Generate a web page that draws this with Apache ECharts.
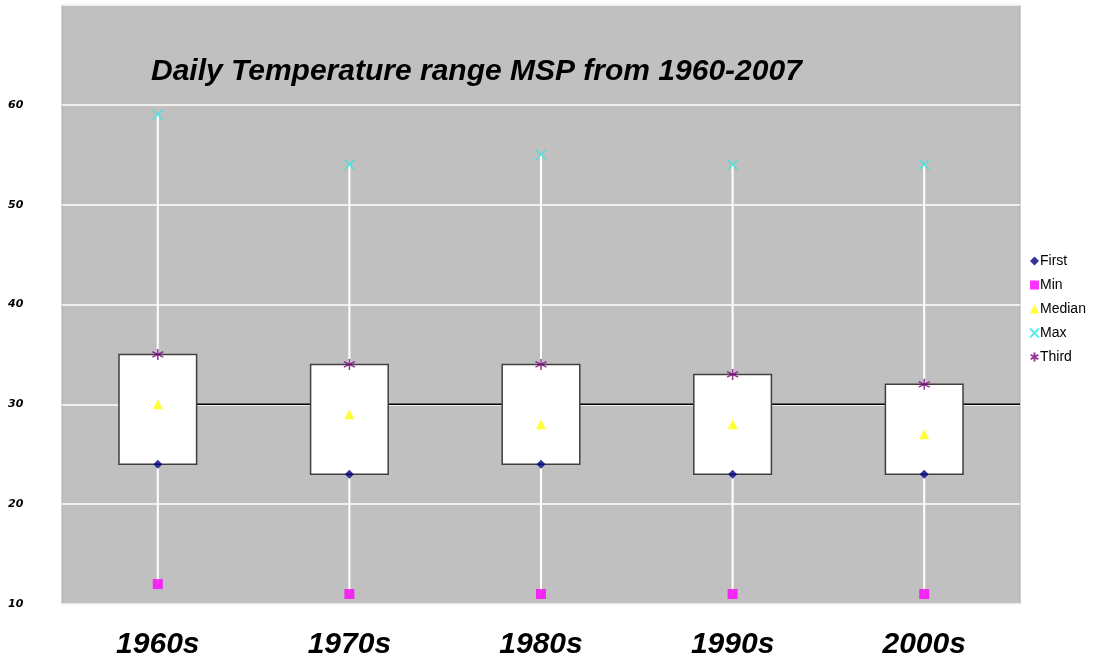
<!DOCTYPE html>
<html>
<head>
<meta charset="utf-8">
<script src="https://cdn.jsdelivr.net/npm/echarts@6/dist/echarts.min.js"></script>
<style>
  html, body { margin: 0; padding: 0; background: #fff; }
  #chart { width: 1113px; height: 658px; }
</style>
</head>
<body>
<div id="chart"></div>
<script>
// values
const decades = ['1960s', '1970s', '1980s', '1990s', '2000s']
const firstQ = [24, 23, 24, 23, 23]
const minVals = [12, 11, 11, 11, 11]
const medians = [30, 29, 28, 28, 27]
const maxVals = [59, 54, 55, 54, 54]
const thirdQ = [35, 34, 34, 33, 32]
const refLevel = 30

const boxData = decades.map((d, i) => [i, firstQ[i], thirdQ[i], minVals[i], maxVals[i]])

const chart = echarts.init(document.getElementById('chart'))

const option = {
  animation: false,
  backgroundColor: '#ffffff',
  title: {
    text: 'Daily Temperature range MSP from 1960-2007',
    left: 146,
    top: 52,
    textStyle: {
      fontFamily: 'Liberation Sans',
      fontStyle: 'italic',
      fontWeight: 'bold',
      fontSize: 30,
      color: '#000'
    }
  },
  legend: {
    orient: 'vertical',
    left: 1024,
    top: 249,
    itemWidth: 9,
    itemHeight: 9,
    itemGap: 10,
    data: ['First', 'Min', 'Median', 'Max', 'Third'],
    textStyle: {
      fontFamily: 'Liberation Sans',
      fontSize: 14,
      color: '#000',
      padding: [0, 0, 0, -4]
    }
  },
  grid: {
    left: 62,
    right: 93,
    top: 5,
    bottom: 54,
    outerBoundsMode: 'none',
    containLabel: false,
    show: true,
    backgroundColor: '#c0c0c0',
    borderColor: '#a8a8a8',
    borderWidth: 1
  },
  xAxis: [
    {
      type: 'category',
      data: decades,
      axisLine: { show: false },
      axisTick: { show: false },
      splitLine: { show: false },
      axisLabel: {
        margin: 26,
        fontFamily: 'Liberation Sans',
        fontStyle: 'italic',
        fontWeight: 'bold',
        fontSize: 30,
        color: '#000'
      }
    },
    {
      type: 'value',
      min: -0.5,
      max: decades.length - 0.5,
      show: false
    }
  ],
  yAxis: {
    type: 'value',
    min: 10,
    max: 70,
    interval: 10,
    axisLine: { show: false },
    axisTick: { show: false },
    axisLabel: {
      showMaxLabel: false,
      align: 'left',
      margin: 54,
      fontFamily: 'DejaVu Sans',
      fontStyle: 'italic',
      fontWeight: 'bold',
      fontSize: 11,
      color: '#000'
    },
    splitLine: {
      lineStyle: { color: '#ffffff', width: 1.5 }
    }
  },
  series: [
    {
      name: 'ref',
      type: 'line',
      xAxisIndex: 1,
      z: 1,
      symbol: 'none',
      silent: true,
      lineStyle: { color: '#000', width: 1.5 },
      data: [[0, refLevel], [decades.length - 0.5, refLevel]]
    },
    {
      name: 'whisker',
      type: 'custom',
      z: 2,
      silent: true,
      data: boxData,
      renderItem: function (params, api) {
        const top = api.coord([api.value(0), api.value(4)])
        const bot = api.coord([api.value(0), api.value(3)])
        return {
          type: 'line',
          shape: { x1: top[0], y1: top[1], x2: bot[0], y2: bot[1] },
          style: { stroke: '#ffffff', lineWidth: 2 }
        }
      }
    },
    {
      name: 'box',
      type: 'custom',
      z: 3,
      silent: true,
      data: boxData,
      renderItem: function (params, api) {
        const hi = api.coord([api.value(0), api.value(2)])
        const lo = api.coord([api.value(0), api.value(1)])
        const w = api.size([1, 0])[0] * 0.405
        return {
          type: 'rect',
          shape: { x: hi[0] - w / 2, y: hi[1], width: w, height: lo[1] - hi[1] },
          style: { fill: '#ffffff', stroke: '#404040', lineWidth: 1.5 }
        }
      }
    },
    {
      name: 'First',
      type: 'scatter',
      z: 4,
      symbol: 'diamond',
      symbolSize: 9,
      itemStyle: { color: '#000080' },
      data: firstQ
    },
    {
      name: 'Min',
      type: 'scatter',
      z: 4,
      symbol: 'rect',
      symbolSize: 10,
      itemStyle: { color: '#ff00ff' },
      data: minVals
    },
    {
      name: 'Median',
      type: 'scatter',
      z: 4,
      symbol: 'triangle',
      symbolSize: 10,
      itemStyle: { color: '#ffff00' },
      data: medians
    },
    {
      name: 'Max',
      type: 'scatter',
      z: 4,
      symbol: 'path://M0,0L10,10M10,0L0,10',
      symbolSize: 10,
      itemStyle: { color: 'transparent', borderColor: '#33e6e6', borderWidth: 1.5 },
      data: maxVals
    },
    {
      name: 'Third',
      type: 'scatter',
      z: 4,
      symbol: 'path://M5,0L5,10M0.7,2.5L9.3,7.5M0.7,7.5L9.3,2.5',
      symbolSize: 11,
      itemStyle: { color: 'transparent', borderColor: '#800080', borderWidth: 1.5 },
      data: thirdQ
    }
  ]
}

chart.setOption(option)
</script>
</body>
</html>
